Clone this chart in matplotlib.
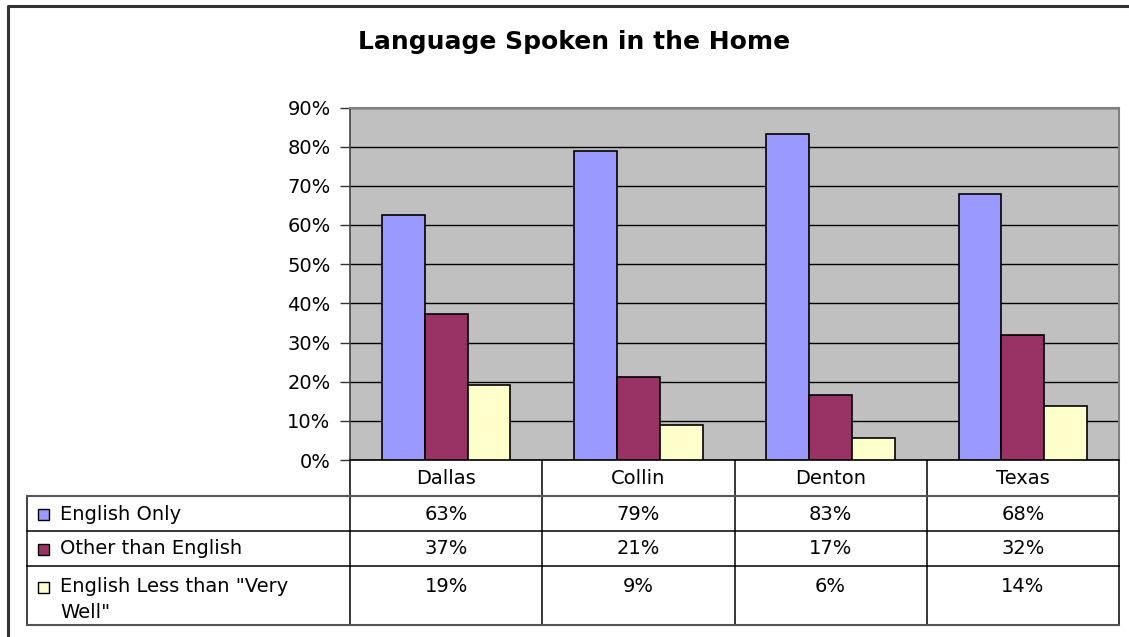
import matplotlib
matplotlib.use("Agg")
import matplotlib.pyplot as plt
from matplotlib.patches import Rectangle

# the original Excel text is wide, DejaVu is the widest family we have
plt.rcParams['font.family'] = ['DejaVu Sans']

# data (percent)
categories = ['Dallas', 'Collin', 'Denton', 'Texas']
series_names = ['English Only', 'Other than English', 'English Less than "Very\nWell"']
english_only = [62.6, 78.9, 83.3, 67.8]
other_than_english = [37.3, 21.1, 16.6, 31.8]
less_than_very_well = [19.2, 9.0, 5.7, 13.7]
colors = ['#9999FF', '#993366', '#FFFFCC']
title = 'Language Spoken in the Home'

W, H = 1129, 637
fs = 14
fig = plt.figure(figsize=(W / 100, H / 100), dpi=100)

# overlay in pixel coords for frame + data table
bg = fig.add_axes([0, 0, 1, 1])
bg.set_xlim(0, W)
bg.set_ylim(H, 0)
bg.axis('off')
bg.patch.set_alpha(0)

# plot area in pixels
px_l, px_r, px_t, px_b = 350, 1119, 107.5, 460
ax = fig.add_axes([px_l / W, 1 - px_b / H, (px_r - px_l) / W, (px_b - px_t) / H])
ax.set_facecolor('#C0C0C0')

series = [english_only, other_than_english, less_than_very_well]
bw = 0.223
x = range(len(categories))
for j, (vals, c) in enumerate(zip(series, colors)):
    ax.bar([i + (j - 1) * bw for i in x], [v / 100 for v in vals], width=bw,
           color=c, edgecolor='black', linewidth=1.2, zorder=3)

ax.set_xlim(-0.5, len(categories) - 0.5)
ax.set_ylim(0, 0.9)
yt = [i / 10 for i in range(10)]
ax.set_yticks(yt)
ax.set_yticklabels([f'{int(round(t * 100))}%' for t in yt], fontsize=fs)
ax.set_xticks([])
ax.tick_params(axis='y', length=7, width=1, color='#333333', pad=7)
ax.yaxis.grid(True, color='black', linewidth=1, zorder=1)
ax.set_axisbelow(True)
for s in ['top', 'right']:
    ax.spines[s].set_color('#808080')
    ax.spines[s].set_linewidth(1.5)
ax.spines['left'].set_color('#444444')
ax.spines['bottom'].set_color('black')
ax.spines['left'].set_linewidth(1.2)
ax.spines['bottom'].set_linewidth(1.2)

# outer frame (left and top)
bg.plot([8, 8, W], [H, 6, 6], color='#333333', lw=2.2, solid_capstyle='butt')

fig.text(574 / W, 1 - 42 / H, title, ha='center', va='center',
         fontsize=18, fontweight='bold')

# data table
col_w = (px_r - px_l) / len(categories)
leg_l = 27
rows_y = [496, 531, 566, 625]
for k in range(len(categories) + 1):
    xx = px_l + k * col_w
    bg.plot([xx, xx], [px_b, rows_y[-1]], color='black', lw=1.1)
bg.plot([leg_l, leg_l], [rows_y[0], rows_y[-1]], color='#333333', lw=1.3)
bg.plot([leg_l, px_r], [rows_y[0], rows_y[0]], color='#555555', lw=1.5)
bg.plot([leg_l, px_r], [rows_y[1], rows_y[1]], color='black', lw=1.1)
bg.plot([leg_l, px_r], [rows_y[2], rows_y[2]], color='black', lw=1.1)
bg.plot([leg_l, px_r], [rows_y[3], rows_y[3]], color='#555555', lw=1.5)

for i, cat in enumerate(categories):
    bg.text(px_l + (i + 0.5) * col_w, 478, cat, ha='center', va='center', fontsize=fs)

row_mid = [514, 549, 587]
for r, (name, vals, c) in enumerate(zip(series_names, series, colors)):
    ty = row_mid[r]
    bg.add_patch(Rectangle((38, ty - 5.5), 11, 11, facecolor=c, edgecolor='black', lw=1))
    first, *rest = name.split('\n')
    bg.text(60, ty, first, ha='left', va='center', fontsize=fs)
    for n, line in enumerate(rest):
        bg.text(60, ty + 25 * (n + 1), line, ha='left', va='center', fontsize=fs)
    for i, v in enumerate(vals):
        bg.text(px_l + (i + 0.5) * col_w, ty, f'{v:.0f}%', ha='center', va='center', fontsize=fs)

fig.savefig('out.png', dpi=100, facecolor='white')
